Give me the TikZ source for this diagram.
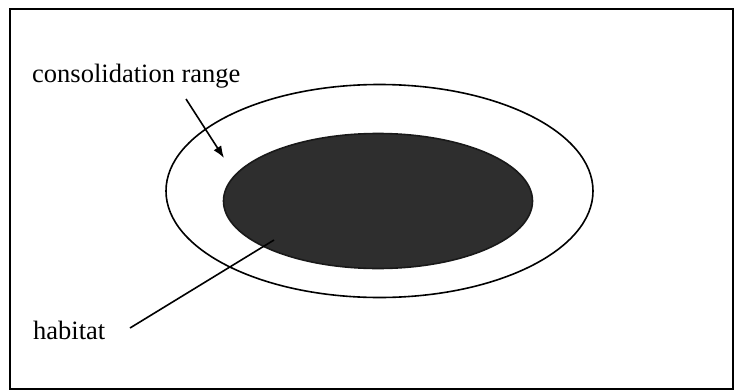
\documentclass[tikz,border=0pt]{standalone}
\usepackage{fontspec}
\setmainfont{Liberation Serif}
\usepackage{tikz}
\usetikzlibrary{shapes.geometric, positioning, arrows.meta}

\tikzset{
    region/.style={ellipse, draw, line width=1.6pt, inner sep=0pt},
    label/.style={inner sep=0pt, anchor=base west, font=\fontsize{26.5}{30}\selectfont},
    pointer/.style={line width=1.6pt}
}

\begin{document}
\begin{tikzpicture}[x=1pt, y=-1pt]
            \useasboundingbox (0, 0) rectangle (741, 391);

            % Frame
            \draw[line width=1.6pt] (10, 9) rectangle (733, 389);

            % Ellipses
            \node[region, minimum width=427pt, minimum height=213pt] (range) at (379.5, 191) {};
            \node[region, fill=black!82, draw=black!90, minimum width=309pt, minimum height=135pt] (habitat) at (378, 201) {};

            % Labels
            \node[label] (rangelabel) at (32, 82) {consolidation range};
            \node[label] (habitatlabel) at (33, 339) {habitat};

            % Pointers
            \coordinate (rangefoot) at (186, 99);
            \coordinate (rangetip) at (224, 158);
            \draw[pointer, -{Latex[length=12pt, width=9pt]}] (rangefoot) -- (rangetip);

            \coordinate (habitatfoot) at (130, 328);
            \coordinate (habitattip) at (274, 240);
            \draw[pointer] (habitatfoot) -- (habitattip);
        \end{tikzpicture}
\end{document}
